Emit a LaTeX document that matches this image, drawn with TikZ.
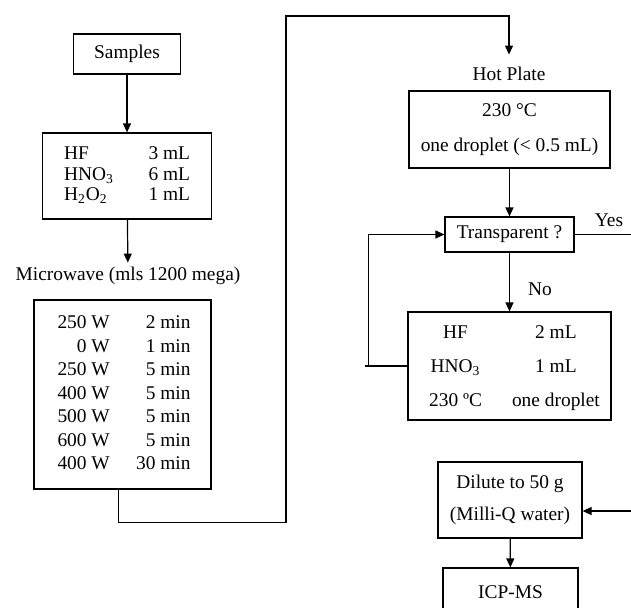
\documentclass[tikz,border=0pt]{standalone}
\usepackage{fontspec}
\setmainfont{Liberation Serif}
\usetikzlibrary{positioning, arrows.meta}

\tikzset{
  box/.style={draw, line width=0.6pt, inner sep=0pt},
  lbl/.style={inner sep=2pt},
  flow/.style={-{Triangle[length=4.5pt, width=4pt]}, line width=0.6pt},
}

\begin{document}
\begin{tikzpicture}[x=0.5pt, y=-0.5pt, font=\fontsize{9.7}{12}\selectfont, line width=0.6pt]
        \useasboundingbox (0,0) rectangle (631,607);

        % left column
        \node (samples) [box, minimum width=53.5pt, minimum height=20pt] at (127,54) {Samples};
        \node (reagents) [box, minimum width=84.5pt, minimum height=43pt] at (127,176)
            {\renewcommand{\arraystretch}{0.854}%
             \begin{tabular*}{63pt}{@{}l@{\extracolsep{\fill}}r@{}}
             HF & 3 mL\\
             HNO\textsubscript{3} & 6 mL\\
             H\textsubscript{2}O\textsubscript{2} & 1 mL
             \end{tabular*}};
        \node (mwlabel) [lbl] at (128,276) {Microwave (mls 1200 mega)};
        \node (mwbox) [box, minimum width=88.5pt, minimum height=94.5pt] at (122.5,394.5)
            {\renewcommand{\arraystretch}{0.98}%
             \begin{tabular*}{68pt}{@{\hspace{1.5pt}}r@{\extracolsep{\fill}}r@{}}
             250 W & 2 min\\
             0 W & 1 min\\
             250 W & 5 min\\
             400 W & 5 min\\
             500 W & 5 min\\
             600 W & 5 min\\
             400 W & 30 min
             \end{tabular*}};

        % right column
        \node (hplabel) [lbl] at (509,74) {Hot Plate};
        \node (hpbox) [box, minimum width=100.5pt, minimum height=38.5pt, align=center] at (509.5,129.5)
            {230 °C\\[5.5pt] one droplet (< 0.5 mL)};
        \node (transp) [box, minimum width=64.5pt, minimum height=17.5pt] at (509.5,234.5) {Transparent ?};
        \node (yes) [lbl] at (609,220) {Yes};
        \coordinate (yesend) at (631,234.5);
        \node (hfbox) [box, minimum width=101.5pt, minimum height=54pt] at (509.5,366)
            {\renewcommand{\arraystretch}{1.417}%
             \begin{tabular}{@{\hspace{5pt}}c@{\hspace{15pt}}c@{}}
             HF & 2 mL\\
             HNO\textsubscript{3} & 1 mL\\
             230 ºC & one droplet
             \end{tabular}};
        \node (dilute) [box, minimum width=72pt, minimum height=38pt, align=center] at (510,500)
            {Dilute to 50 g\\[4pt] (Milli-Q water)};
        \coordinate (dilin) at (631,511);
        \node (icp) [box, minimum width=67.5pt, minimum height=24pt] at (510.5,592) {ICP-MS};

        % connectors
        \coordinate (turn) at (286,16);
        \path[flow]
            (samples) edge (reagents)
            (reagents) edge (mwlabel)
            (dilute) edge (icp);
        \draw[flow] (hpbox.south) -- (transp.north);
        \draw[flow] ([xshift=-2pt]mwbox.south) -- ++(0,33) -| (turn) -| ([yshift=4pt]hplabel.north);
        \draw (transp.east) -- (yesend);
        \draw[flow] (transp) -- node (no) [lbl, pos=0.63, right=7pt] {No} (hfbox);
        \draw[flow] (hfbox.west) -- ++(-42,0) ++(3,0) |- (transp.west);
        \draw[flow] (dilin) -- (dilin -| dilute.east);
    \end{tikzpicture}
\end{document}
